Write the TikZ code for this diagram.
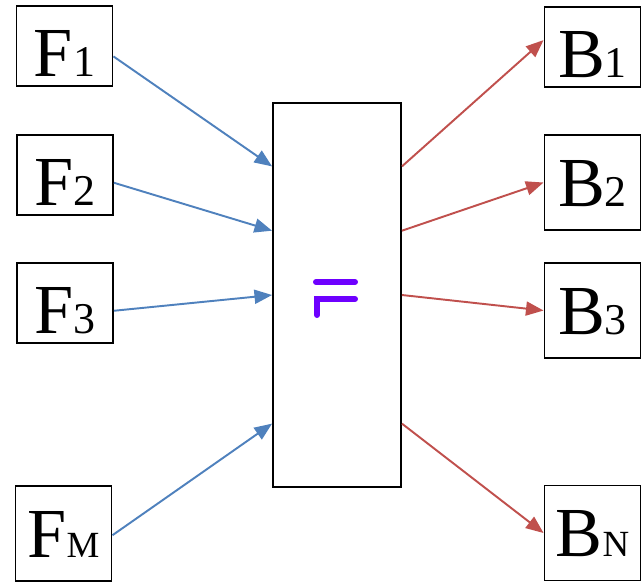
\documentclass[tikz,border=0pt]{standalone}
\usepackage{fontspec}
\setmainfont{Liberation Serif}
\usetikzlibrary{arrows.meta,calc}

\definecolor{azul}{RGB}{79,129,189}
\definecolor{rojo}{RGB}{192,80,77}
\definecolor{morado}{RGB}{110,0,255}

% Etiqueta: letra grande y subindice pequeno en la misma linea base
\newcommand{\etiq}[3][25]{\fontsize{40}{40}\selectfont #2{\fontsize{#1}{#1}\selectfont #3}}

\tikzset{
  caja/.style={draw, line width=1.1pt, minimum width=1.92cm, minimum height=1.9cm,
    inner sep=0pt, text height=0.94cm, text depth=0pt},
  corta/.style={caja, minimum height=1.6cm, text height=1.22cm},
  entrada/.style={-{Triangle[length=10pt,width=8pt]}, line width=1.1pt, azul},
  salida/.style={-{Triangle[length=10pt,width=8pt]}, line width=1.1pt, rojo}
}

\begin{document}
\begin{tikzpicture}[x=0.02cm, y=-0.02cm]
        \useasboundingbox (0,0) rectangle (642,583);

        % Cajas de la izquierda
        \node[corta] (F1) at (64.5,46) {\etiq{F}{1}};
        \node[corta] (F2) at (65,175) {\etiq{F}{2}};
        \node[corta] (F3) at (65,303) {\etiq{F}{3}};
        \node[caja] (FM) at (63.5,533.5) {\etiq[21]{F}{M}};

        % Cajas de la derecha
        \node[corta] (B1) at (592.5,47) {\etiq{B}{1}};
        \node[caja] (B2) at (592.5,182.5) {\etiq{B}{2}};
        \node[caja] (B3) at (592.5,310.5) {\etiq{B}{3}};
        \node[caja] (BN) at (592.5,533) {\etiq[21]{B}{N}};

        % Bloque central
        \node[draw, line width=1.1pt, minimum width=2.56cm, minimum height=7.68cm] (bloque) at (337,295) {};

        % Simbolo del bloque
        \draw[morado, line width=3.4pt, line cap=round] (316,282) -- (355,282);
        \draw[morado, line width=3.4pt, line cap=round] (317,315) -- (317,299) -- (355,299);

        % Flechas de entrada
        \draw[entrada] (F1.-12) -- ($(bloque.north west)!1/6!(bloque.south west)$);
        \draw[entrada] (F2.-9) -- ($(bloque.north west)!1/3!(bloque.south west)$);
        \draw[entrada] (F3.-9) -- (bloque.west);
        \draw[entrada] (FM.-2) -- ($(bloque.north west)!5/6!(bloque.south west)$);

        % Flechas de salida
        \draw[salida] ($(bloque.north east)!1/6!(bloque.south east)$) -- (B1.172);
        \draw[salida] ($(bloque.north east)!1/3!(bloque.south east)$) -- (B2.west);
        \draw[salida] (bloque.east) -- (B3.west);
        \draw[salida] ($(bloque.north east)!5/6!(bloque.south east)$) -- (BN.west);

    \end{tikzpicture}
\end{document}
